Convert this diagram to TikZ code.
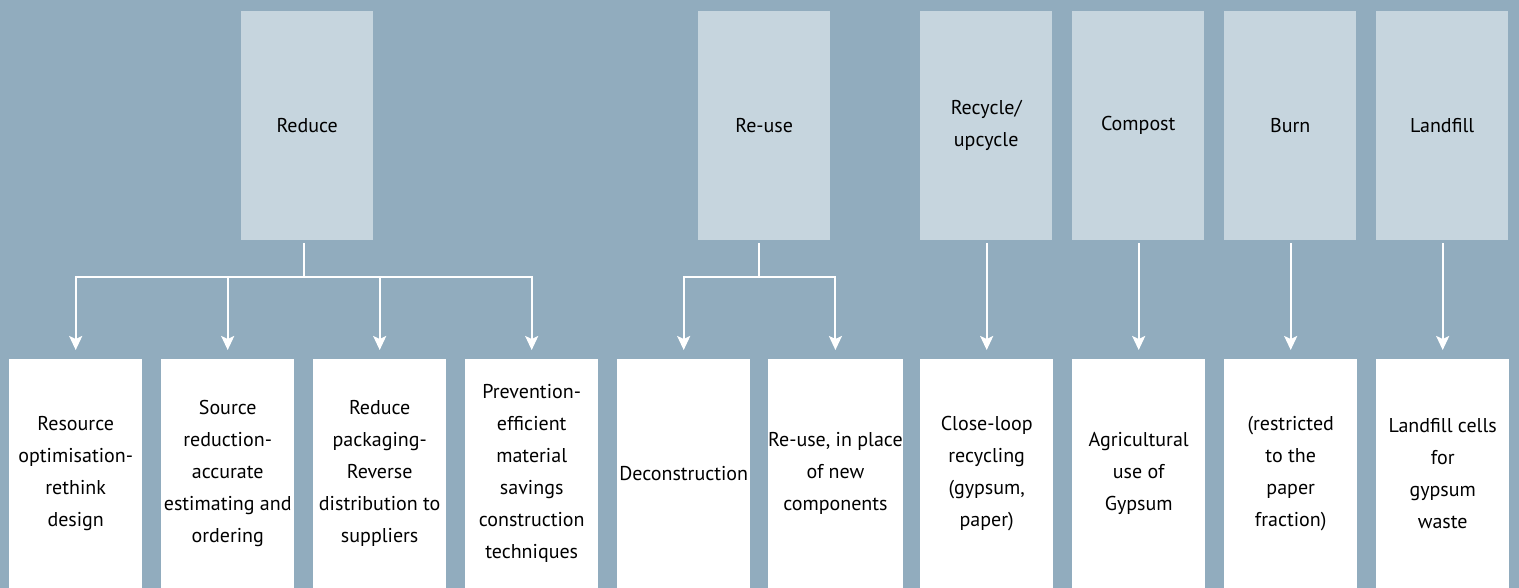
\documentclass[tikz,border=0pt]{standalone}
\usepackage{fontspec}
\setmainfont{PT Sans}
\usetikzlibrary{arrows.meta}
\definecolor{bgc}{HTML}{91ACBE}
\definecolor{topc}{HTML}{C6D5DE}
\tikzset{
  topbox/.style={fill=topc, draw=none, anchor=north west, minimum width=132pt, minimum height=229pt, inner sep=0pt, align=center, font=\fontsize{20}{32}\selectfont, text=black},
  botbox/.style={fill=white, draw=none, anchor=north west, minimum width=133pt, minimum height=229pt, inner sep=0pt, align=center, font=\fontsize{20}{32}\selectfont, text=black},
  conn/.style={draw=white, line width=2pt},
  arr/.style={conn, -{Stealth[length=14pt,width=13pt,inset=3pt]}, shorten >=9pt}
}
\begin{document}
\begin{tikzpicture}[x=1pt,y=-1pt]
\fill[bgc] (0,0) rectangle (1519,588);
\useasboundingbox (0,0) rectangle (1519,588);
% top boxes
\node[topbox] (reduce) at (241,11) {Reduce};
\node[topbox] (reuse) at (698,11) {Re-use};
\node[topbox] (recycle) at (920,11) {Recycle/\\upcycle};
\node[topbox] (compost) at (1072,11) {Compost};
\node[topbox] (burn) at (1224,11) {Burn};
\node[topbox] (landfill) at (1376,11) {Landfill};
% bottom boxes
\node[botbox] (b1) at (9,359) {Resource\\optimisation-\\rethink\\design};
\node[botbox] (b2) at (161,359) {Source\\reduction-\\accurate\\estimating and\\ordering};
\node[botbox] (b3) at (313,359) {Reduce\\packaging-\\Reverse\\distribution to\\suppliers};
\node[botbox] (b4) at (465,359) {Prevention-\\efficient\\material\\savings\\construction\\techniques};
\node[botbox] (b5) at (617,359) {Deconstruction};
\node[botbox] (b6) at (768,359) {Re-use, in place\\of new\\components};
\node[botbox] (b7) at (920,359) {Close-loop\\recycling\\(gypsum,\\paper)};
\node[botbox] (b8) at (1072,359) {Agricultural\\use of\\Gypsum};
\node[botbox] (b9) at (1224,359) {(restricted\\to the\\paper\\fraction)};
\node[botbox] (b10) at (1376,359) {Landfill cells\\for\\gypsum\\waste};
% junctions
\coordinate (rj) at (304,277);
\coordinate (uj) at (759,277);
\draw[conn] (rj |- reduce.south) ++(0,3) -- (rj);
\draw[conn] (uj |- reuse.south) ++(0,3) -- (uj);
\foreach \b in {b1,b2,b3,b4} \draw[arr] (rj) -| (\b.north);
\foreach \b in {b5,b6} \draw[arr] (uj) -| (\b.north);
\draw[arr, shorten <=3pt] (b7.north |- recycle.south) -- (b7.north);
\draw[arr, shorten <=3pt] (b8.north |- compost.south) -- (b8.north);
\draw[arr, shorten <=3pt] (b9.north |- burn.south) -- (b9.north);
\draw[arr, shorten <=3pt] (b10.north |- landfill.south) -- (b10.north);
\end{tikzpicture}
\end{document}
